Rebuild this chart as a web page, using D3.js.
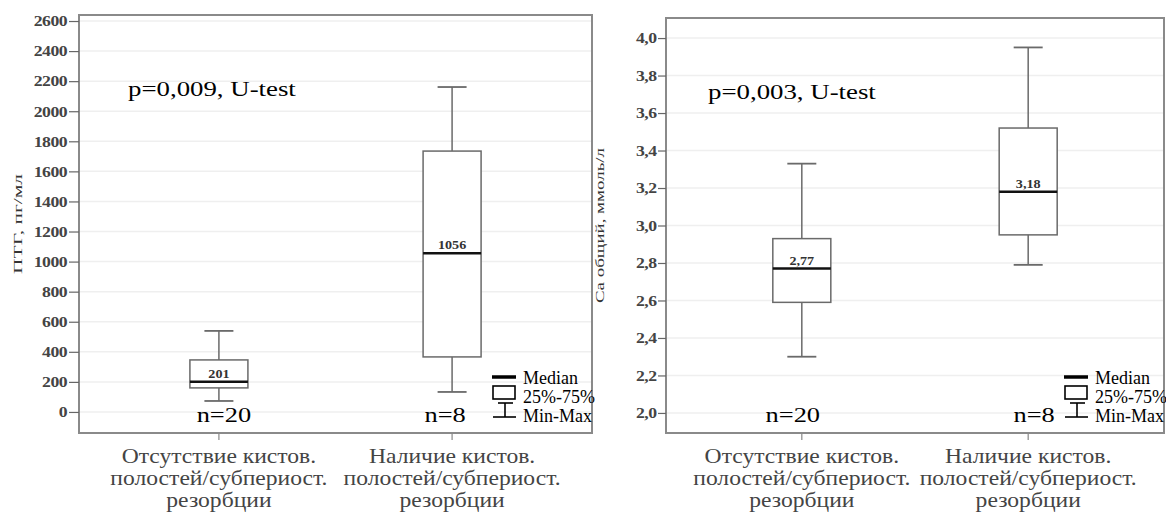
<!DOCTYPE html>
<html>
<head>
<meta charset="utf-8">
<script src="https://cdn.jsdelivr.net/npm/d3@7"></script>
<style>
  body { margin: 0; background: #fff; }
  svg { display: block; }
  svg text { font-family: 'Liberation Serif', 'DejaVu Serif', serif; }
</style>
</head>
<body>
<div id="chart"></div>
<script>
// categories (x labels, one array of lines per group)
const groups = ['absent', 'present'];
const groupLabels = [
  ['Отсутствие кистов.', 'полостей/субпериост.', 'резорбции'],
  ['Наличие кистов.', 'полостей/субпериост.', 'резорбции'],
];
const groupN = ['n=20', 'n=8'];

// ПТГ, пг/мл
const pthMin = [73, 133];
const pthQ1 = [160, 366];
const pthMedian = [201, 1056];
const pthQ3 = [346, 1735];
const pthMax = [539, 2161];
const pthTicks = [0, 200, 400, 600, 800, 1000, 1200, 1400, 1600, 1800, 2000, 2200, 2400, 2600];

// Са общий, ммоль/л
const caMin = [2.30, 2.79];
const caQ1 = [2.59, 2.95];
const caMedian = [2.77, 3.18];
const caQ3 = [2.93, 3.52];
const caMax = [3.33, 3.95];
const caTicks = [2.0, 2.2, 2.4, 2.6, 2.8, 3.0, 3.2, 3.4, 3.6, 3.8, 4.0];

const width = 1166;
const height = 518;
const serif = "'Liberation Serif', 'DejaVu Serif', serif";
const stretch = 1.18; // the source picture is stretched horizontally

const svg = d3.select('#chart')
  .append('svg')
  .attr('width', width)
  .attr('height', height)
  .attr('font-family', serif);

const comma = f => v => d3.format(f)(v).replace('.', ',');

// one panel = one box plot
function panel(opt) {
  const { left, right, top, bottom } = opt;
  const g = svg.append('g');

  const x = d3.scalePoint()
    .domain(groups)
    .range([left, right])
    .padding(0.6);

  const y = d3.scaleLinear()
    .domain(opt.domain)
    .range([bottom, top]);

  // light grid lines at each tick
  g.append('g')
    .selectAll('line')
    .data(opt.ticks)
    .join('line')
    .attr('x1', left)
    .attr('x2', right)
    .attr('y1', d => y(d))
    .attr('y2', d => y(d))
    .attr('stroke', '#efefef')
    .attr('stroke-width', 1.5);

  // frame
  g.append('rect')
    .attr('x', left)
    .attr('y', top)
    .attr('width', right - left)
    .attr('height', bottom - top)
    .attr('fill', 'none')
    .attr('stroke', '#8a8a8a')
    .attr('stroke-width', 2);

  // y axis
  const yAxis = g.append('g')
    .attr('transform', `translate(${left},0)`)
    .call(d3.axisLeft(y).tickValues(opt.ticks).tickFormat(opt.format).tickSize(opt.tickSize).tickPadding(0));
  yAxis.attr('font-family', serif);
  yAxis.select('.domain').remove();
  yAxis.selectAll('.tick line').attr('stroke', '#666').attr('stroke-width', 1.2);
  yAxis.selectAll('.tick text')
    .attr('fill', '#444')
    .attr('font-size', 15)
    .attr('font-weight', 'bold')
    .attr('letter-spacing', -0.4)
    .attr('transform', `scale(${stretch},1)`);

  // x axis ticks (below the frame)
  g.append('g')
    .selectAll('line')
    .data(groups)
    .join('line')
    .attr('x1', d => x(d))
    .attr('x2', d => x(d))
    .attr('y1', bottom)
    .attr('y2', bottom + 7)
    .attr('stroke', '#888')
    .attr('stroke-width', 1.2);

  // x labels
  g.append('g')
    .selectAll('text')
    .data(groups)
    .join('text')
    .attr('transform', d => `translate(${x(d)},${bottom + 30}) scale(${stretch},1)`)
    .attr('text-anchor', 'middle')
    .attr('fill', '#444')
    .attr('font-size', 20)
    .selectAll('tspan')
    .data((d, i) => groupLabels[i])
    .join('tspan')
    .attr('x', 0)
    .attr('dy', (d, i) => (i === 0 ? 0 : 22))
    .text(d => d);

  // y axis title
  g.append('text')
    .attr('transform', `translate(${opt.titleX},${(top + bottom) / 2}) rotate(-90)`)
    .attr('text-anchor', 'middle')
    .attr('fill', '#333')
    .attr('textLength', opt.titleLength)
    .attr('lengthAdjust', 'spacingAndGlyphs')
    .attr('font-size', 13)
    .text(opt.title);

  const bw = 58;
  const cap = 29;
  const boxes = g.append('g')
    .selectAll('g')
    .data(groups)
    .join('g');

  // whiskers
  boxes.append('line')
    .attr('x1', d => x(d))
    .attr('x2', d => x(d))
    .attr('y1', (d, i) => y(opt.max[i]))
    .attr('y2', (d, i) => y(opt.min[i]))
    .attr('stroke', '#6a6a6a')
    .attr('stroke-width', 1.5);

  boxes.selectAll('.cap')
    .data((d, i) => [opt.min[i], opt.max[i]].map(v => ({ v, cx: x(d) })))
    .join('line')
    .attr('class', 'cap')
    .attr('x1', d => d.cx - cap / 2)
    .attr('x2', d => d.cx + cap / 2)
    .attr('y1', d => y(d.v))
    .attr('y2', d => y(d.v))
    .attr('stroke', '#6a6a6a')
    .attr('stroke-width', 1.8);

  // boxes
  boxes.append('rect')
    .attr('x', d => x(d) - bw / 2)
    .attr('y', (d, i) => y(opt.q3[i]))
    .attr('width', bw)
    .attr('height', (d, i) => y(opt.q1[i]) - y(opt.q3[i]))
    .attr('fill', '#fff')
    .attr('stroke', '#6a6a6a')
    .attr('stroke-width', 1.5);

  // median
  boxes.append('line')
    .attr('x1', d => x(d) - bw / 2)
    .attr('x2', d => x(d) + bw / 2)
    .attr('y1', (d, i) => y(opt.median[i]))
    .attr('y2', (d, i) => y(opt.median[i]))
    .attr('stroke', '#111')
    .attr('stroke-width', 2.5);

  boxes.append('text')
    .attr('transform', (d, i) => `translate(${x(d)},${y(opt.median[i]) - 4}) scale(${stretch},1)`)
    .attr('text-anchor', 'middle')
    .attr('fill', '#333')
    .attr('font-size', 12)
    .attr('font-weight', 'bold')
    .text((d, i) => opt.labelFormat(opt.median[i]));

  // n labels
  g.append('g')
    .selectAll('text')
    .data(groups)
    .join('text')
    .attr('transform', (d, i) => `translate(${x(d) + opt.nShift[i]},${bottom - 11}) scale(1.2,1)`)
    .attr('text-anchor', 'middle')
    .attr('fill', '#000')
    .attr('font-size', 22)
    .text((d, i) => groupN[i]);

  // test annotation
  g.append('text')
    .attr('transform', `translate(${left + opt.pShift},${top + 81}) scale(1.22,1)`)
    .attr('fill', '#000')
    .attr('font-size', 22)
    .text(opt.pText);

  // legend
  const lx = right - 100;
  const leg = g.append('g');
  const ly = bottom - 56;
  leg.append('line')
    .attr('x1', lx).attr('x2', lx + 24)
    .attr('y1', ly).attr('y2', ly)
    .attr('stroke', '#000').attr('stroke-width', 3.5);
  leg.append('rect')
    .attr('x', lx + 1).attr('y', ly + 9)
    .attr('width', 22).attr('height', 13)
    .attr('fill', '#fff').attr('stroke', '#000').attr('stroke-width', 1.6);
  leg.append('line')
    .attr('x1', lx + 6).attr('x2', lx + 21)
    .attr('y1', ly + 26).attr('y2', ly + 26)
    .attr('stroke', '#000').attr('stroke-width', 1.6);
  leg.append('line')
    .attr('x1', lx + 13).attr('x2', lx + 13)
    .attr('y1', ly + 26).attr('y2', ly + 40)
    .attr('stroke', '#000').attr('stroke-width', 1.6);
  leg.append('line')
    .attr('x1', lx + 1).attr('x2', lx + 24)
    .attr('y1', ly + 40).attr('y2', ly + 40)
    .attr('stroke', '#000').attr('stroke-width', 1.6);
  leg.selectAll('text')
    .data(['Median', '25%-75%', 'Min-Max'])
    .join('text')
    .attr('x', lx + 31)
    .attr('y', (d, i) => ly + 7 + i * 19)
    .attr('fill', '#000')
    .attr('font-size', 18)
    .text(d => d);
}

panel({
  left: 79, right: 592, top: 15, bottom: 433,
  domain: [-140, 2640],
  ticks: pthTicks,
  format: d3.format('d'),
  labelFormat: d3.format('d'),
  tickSize: 10,
  min: pthMin, q1: pthQ1, median: pthMedian, q3: pthQ3, max: pthMax,
  title: 'ПТГ, пг/мл',
  titleX: 22,
  titleLength: 100,
  pText: 'p=0,009, U-test',
  pShift: 49,
  nShift: [5, -7],
});

panel({
  left: 666, right: 1164, top: 18, bottom: 433,
  domain: [1.893, 4.107],
  ticks: caTicks,
  format: comma('.1f'),
  labelFormat: comma('.2f'),
  tickSize: 8,
  min: caMin, q1: caQ1, median: caMedian, q3: caQ3, max: caMax,
  title: 'Са общий, ммоль/л',
  titleX: 604,
  titleLength: 155,
  pText: 'p=0,003, U-test',
  pShift: 42,
  nShift: [-9, 6],
});
</script>
</body>
</html>
